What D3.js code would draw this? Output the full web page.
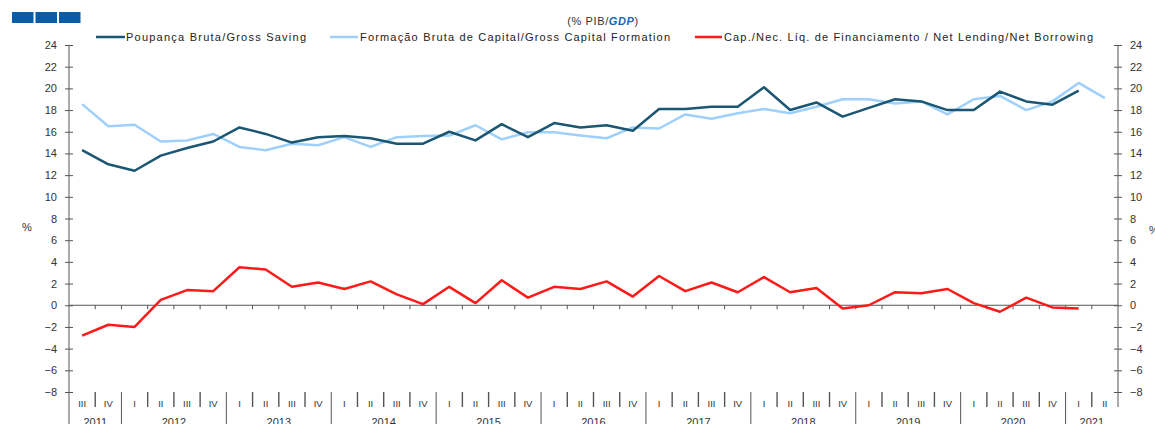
<!DOCTYPE html>
<html><head><meta charset="utf-8">
<script src="https://cdn.jsdelivr.net/npm/d3@7/dist/d3.min.js"></script>
<style>
body{margin:0;background:#fff;}
svg{display:block;font-family:"Liberation Sans",Arial,sans-serif;}
</style></head><body>
<svg id="c" width="1155" height="424"></svg>
<script>
const years = ["2011","2012","2013","2014","2015","2016","2017","2018","2019","2020","2021"];
const quarters = ["III","IV",
 "I","II","III","IV","I","II","III","IV","I","II","III","IV","I","II","III","IV",
 "I","II","III","IV","I","II","III","IV","I","II","III","IV","I","II","III","IV",
 "I","II","III","IV","I","II"];
const yearOfQuarter = [0,0,1,1,1,1,2,2,2,2,3,3,3,3,4,4,4,4,5,5,5,5,6,6,6,6,7,7,7,7,8,8,8,8,9,9,9,9,10,10];
const saving = [14.3,13.0,12.4,13.8,14.5,15.1,16.4,15.8,15.0,15.5,15.6,15.4,14.9,14.9,16.0,15.2,16.7,15.5,16.8,16.4,16.6,16.1,18.1,18.1,18.3,18.3,20.1,18.0,18.7,17.4,18.2,19.0,18.8,18.0,18.0,19.7,18.8,18.5,19.8];
const gcf = [18.55,16.5,16.65,15.1,15.2,15.8,14.6,14.3,14.9,14.75,15.5,14.6,15.5,15.6,15.65,16.6,15.3,15.95,15.95,15.65,15.4,16.4,16.3,17.6,17.2,17.7,18.1,17.7,18.3,19.0,19.0,18.6,18.8,17.6,19.0,19.3,18.0,18.8,20.5,19.1];
const netLending = [-2.8,-1.8,-2.0,0.5,1.4,1.3,3.5,3.3,1.7,2.1,1.5,2.2,1.0,0.1,1.7,0.2,2.3,0.7,1.7,1.5,2.2,0.8,2.7,1.3,2.1,1.2,2.6,1.2,1.6,-0.3,0.0,1.2,1.1,1.5,0.2,-0.6,0.7,-0.2,-0.3];
const yTicks = [-8,-6,-4,-2,0,2,4,6,8,10,12,14,16,18,20,22,24];
const seriesNames = ["Poupança Bruta/Gross Saving","Formação Bruta de Capital/Gross Capital Formation","Cap./Nec. Líq. de Financiamento / Net Lending/Net Borrowing"];
const colors = ["#1b5673","#9fd0fb","#ff1a1a"];

const svg = d3.select("#c");
const L = 69, R = 1118, T = 45, B = 392;
const idx = d3.range(quarters.length);
const x = d3.scaleBand().domain(idx).range([L, R]).padding(0);
const cx = i => x(i) + x.bandwidth()/2;
const y = d3.scaleLinear().domain([-8, 24]).range([B, T]);
const axisCol = "#555";

// logo
[12, 35.5, 59].forEach(xx => svg.append("rect").attr("x", xx).attr("y", 12).attr("width", 21.5).attr("height", 11).attr("fill", "#0a5ca6"));

// title
const tt = svg.append("text").attr("x", 603).attr("y", 25).attr("text-anchor", "middle").attr("font-size", 11).attr("fill", "#333").attr("letter-spacing", 0.6);
tt.append("tspan").text("(% PIB/");
tt.append("tspan").text("GDP").attr("fill", "#1565b5").attr("font-style", "italic").attr("font-weight", "bold");
tt.append("tspan").text(")");

// legend
const legPos = [[96, 125, 126, 180], [330, 358, 360, 310], [695, 722, 724, 369]];
legPos.forEach((p, i) => {
  svg.append("line").attr("x1", p[0]).attr("x2", p[1]).attr("y1", 37).attr("y2", 37).attr("stroke", colors[i]).attr("stroke-width", 2.5);
  svg.append("text").attr("x", p[2]).attr("y", 41).attr("font-size", 11).attr("fill", "#222")
     .attr("textLength", p[3]).attr("lengthAdjust", "spacing").text(seriesNames[i]);
});

// left axis
const gl = svg.append("g").attr("transform", `translate(${L},0)`)
  .call(d3.axisLeft(y).tickValues(yTicks).tickSize(4).tickSizeOuter(0).tickPadding(8));
gl.select(".domain").remove();
gl.selectAll(".tick line").attr("x1", -4).attr("x2", 4).attr("stroke", axisCol);
gl.selectAll(".tick text").attr("font-size", 11).attr("fill", "#333").attr("font-family", "Liberation Sans, Arial, sans-serif");
svg.append("line").attr("x1", L).attr("x2", L).attr("y1", T).attr("y2", 424).attr("stroke", axisCol);

// right axis
const gr = svg.append("g").attr("transform", `translate(${R},0)`)
  .call(d3.axisRight(y).tickValues(yTicks).tickSize(4).tickSizeOuter(0).tickPadding(8));
gr.select(".domain").remove();
gr.selectAll(".tick line").attr("x1", -4).attr("x2", 4).attr("stroke", axisCol);
gr.selectAll(".tick text").attr("font-size", 11).attr("fill", "#333").attr("font-family", "Liberation Sans, Arial, sans-serif");
svg.append("line").attr("x1", R).attr("x2", R).attr("y1", T).attr("y2", 407).attr("stroke", axisCol);

// % labels
svg.append("text").attr("x", 22).attr("y", 231).attr("font-size", 11).attr("fill", "#333").text("%");
svg.append("text").attr("x", 1149).attr("y", 234).attr("font-size", 11).attr("fill", "#333").text("%");

// zero line with ticks
svg.append("line").attr("x1", L).attr("x2", R).attr("y1", y(0)).attr("y2", y(0)).attr("stroke", axisCol);
idx.slice(1).forEach(i => {
  svg.append("line").attr("x1", x(i)).attr("x2", x(i)).attr("y1", y(0)).attr("y2", y(0) + 4).attr("stroke", axisCol);
});

// category separators
idx.slice(1).forEach(i => {
  const yearStart = yearOfQuarter[i] !== yearOfQuarter[i-1];
  svg.append("line").attr("x1", x(i)).attr("x2", x(i)).attr("y1", B).attr("y2", yearStart ? 424 : 407)
    .attr("stroke", axisCol).attr("stroke-width", yearStart ? 1 : 1.4);
});
// quarter labels
svg.append("g").selectAll("text").data(idx).join("text")
  .attr("x", i => cx(i)).attr("y", 407).attr("text-anchor", "middle").attr("font-size", 9.5).attr("fill", "#333")
  .text(i => quarters[i]);
// year labels
years.forEach((yr, yi) => {
  const qs = idx.filter(i => yearOfQuarter[i] === yi);
  const mid = (x(qs[0]) + x(qs[qs.length-1]) + x.bandwidth()) / 2;
  svg.append("text").attr("x", mid).attr("y", 426).attr("text-anchor", "middle").attr("font-size", 11).attr("fill", "#333").text(yr);
});

// lines
const line = d3.line().x((d, i) => cx(i)).y(d => y(d));
[[gcf, 1], [saving, 0], [netLending, 2]].forEach(([data, ci]) => {
  svg.append("path").datum(data).attr("d", line).attr("fill", "none").attr("stroke", colors[ci])
    .attr("stroke-width", 2.5).attr("stroke-linejoin", "round");
});
</script>
</body></html>
